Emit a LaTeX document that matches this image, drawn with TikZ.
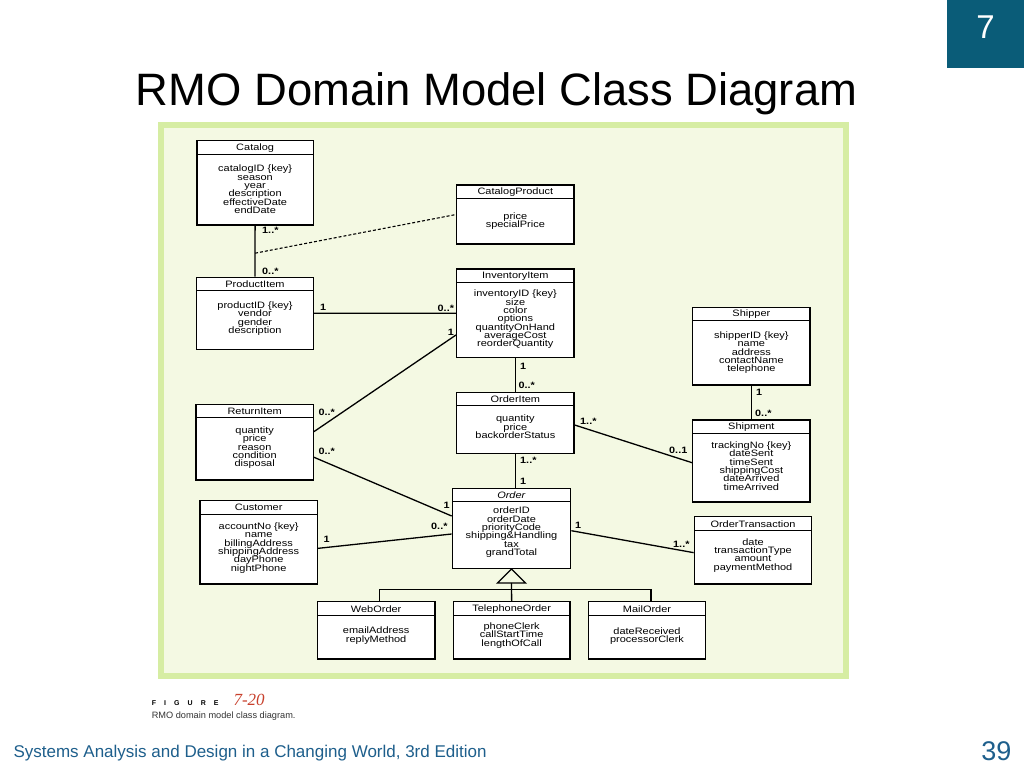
\documentclass[tikz,border=0pt]{standalone}
\usepackage{fontspec}
\setmainfont{Liberation Sans}
\newfontfamily\umlfont[FakeStretch=1.18]{Liberation Sans}
\newfontfamily\capserif{Liberation Serif}
\usetikzlibrary{fit,calc}

\definecolor{slideblue}{HTML}{1E5F8C}
\definecolor{chapterteal}{HTML}{0A5C78}
\definecolor{panelrim}{HTML}{D6EDA3}
\definecolor{panelfill}{HTML}{F4F9E3}
\definecolor{figred}{HTML}{C8402C}

\newcommand{\umltext}{\umlfont\fontsize{9.3}{8.3}\selectfont\setlength{\lineskiplimit}{-20pt}\setlength{\lineskip}{0pt}}

\tikzset{
	classbox/.style={draw=black, line width=1.3pt, fill=white, inner sep=0pt},
	classname/.style={font=\umltext, inner sep=0pt},
	classattr/.style={font=\umltext, align=center, inner sep=0pt},
	mult/.style={font=\umlfont\bfseries\fontsize{9.2}{9.2}\selectfont, inner sep=0pt, anchor=west},
	assoc/.style={draw=black, line width=1.3pt},
	assocclass/.style={draw=black, line width=1.1pt, dash pattern=on 3pt off 2pt},
}

% #1 id, #2 left, #3 top, #4 right, #5 bottom, #6 first attribute line, #7 title, #8 attributes
\newcommand{\umlclass}[8]{%
	\coordinate (#1-nw) at (#2,#3);
	\coordinate (#1-se) at (#4,#5);
	\node[classbox, fit=(#1-nw)(#1-se)] (#1) {};
	\draw[line width=1.3pt] (#2,#3+13.5) -- (#4,#3+13.5);
	\node[classname] (#1-title) at ({(#2+#4)/2},#3+7) {#7};
	\node[classattr, anchor=north] (#1-attrs) at ({(#2+#4)/2},#6-4) {#8};
}

\begin{document}
\begin{tikzpicture}[x=1pt,y=-1pt]

	%Background
	\useasboundingbox (0,0) rectangle (1024,768);
	\fill[white] (0,0) rectangle (1024,768);

	%Chapter tab
	\fill[chapterteal] (947,0) rectangle (1024,68);
	\node[text=white, font=\fontsize{33}{33}\selectfont, anchor=base] (chapno) at (985.5,38) {7};

	%Title
	\node[font=\fontsize{45.4}{45.4}\selectfont, anchor=base] (title) at (496.5,105.5) {RMO Domain Model Class Diagram};

	%Panel
	\fill[panelrim] (158,122) rectangle (849,679);
	\fill[panelfill] (164,127.5) rectangle (843,673);

	%Classes
	\umlclass{catalog}{197}{140.7}{313.3}{225}{169}{Catalog}{catalogID \{key\}\\season\\year\\description\\effectiveDate\\endDate}
	\umlclass{catalogproduct}{456.7}{185}{574}{244}{216.7}{CatalogProduct}{price\\specialPrice}
	\umlclass{productitem}{196.7}{277.3}{313.3}{349.3}{305.7}{ProductItem}{productID \{key\}\\vendor\\gender\\description}
	\umlclass{inventoryitem}{456.7}{269}{574}{357.7}{294}{InventoryItem}{inventoryID \{key\}\\size\\color\\options\\quantityOnHand\\averageCost\\reorderQuantity}
	\umlclass{shipper}{692.7}{307.3}{810}{385}{335.7}{Shipper}{shipperID \{key\}\\name\\address\\contactName\\telephone}
	\umlclass{shipment}{692.7}{420}{810}{502}{445.7}{Shipment}{trackingNo \{key\}\\dateSent\\timeSent\\shippingCost\\dateArrived\\timeArrived}
	\umlclass{returnitem}{196}{404.3}{313.3}{480}{430.7}{ReturnItem}{quantity\\price\\reason\\condition\\disposal}
	\umlclass{orderitem}{456.7}{392.3}{574}{453.3}{419}{OrderItem}{quantity\\price\\backorderStatus}
	\umlclass{order}{452.3}{488.3}{570.7}{568.3}{511}{\textit{Order}}{orderID\\orderDate\\priorityCode\\shipping\&Handling\\tax\\grandTotal}
	\umlclass{customer}{200}{500.7}{317.3}{584}{526.7}{Customer}{accountNo \{key\}\\name\\billingAddress\\shippingAddress\\dayPhone\\nightPhone}
	\umlclass{ordertransaction}{694.3}{516.7}{811.7}{584}{542.3}{OrderTransaction}{date\\transactionType\\amount\\paymentMethod}
	\umlclass{weborder}{317.3}{601.7}{435}{659}{631}{WebOrder}{emailAddress\\replyMethod}
	\umlclass{telephoneorder}{453.3}{601.7}{570}{659}{626.7}{TelephoneOrder}{phoneClerk\\callStartTime\\lengthOfCall}
	\umlclass{mailorder}{588.3}{601.7}{705.7}{659}{631.7}{MailOrder}{dateReceived\\processorClerk}

	%Associations
	\draw[assoc] (catalog) -- (productitem);
	\coordinate (cpjoin) at ($(catalog.south)!0.54!(productitem.north)$);
	\draw[assocclass] (cpjoin) -- (catalogproduct.west);
	\draw[assoc] (productitem) -- (inventoryitem);
	\draw[assoc] ([yshift=-21.6pt]inventoryitem.west) -- ([yshift=10.5pt]returnitem.east);
	\draw[assoc] ([yshift=-15.1pt]returnitem.east) -- ([yshift=12.3pt]order.west);
	\draw[assoc] ([yshift=-6pt]customer.east) -- ([yshift=-5.7pt]order.west);
	\draw[assoc] (inventoryitem) -- (orderitem);
	\draw[assoc] (orderitem.south) -- (orderitem.south |- order.north);
	\draw[assoc] ([yshift=-2.2pt]orderitem.east) -- ([yshift=-1.7pt]shipment.west);
	\draw[assoc] (shipper) -- (shipment);
	\draw[assoc] ([yshift=-2.4pt]order.east) -- ([yshift=-2.3pt]ordertransaction.west);

	%Generalization
	\coordinate (genbase) at ($(order.south)+(0,14)$);
	\coordinate (genbar) at ($(order.south)+(0,20.7)$);
	\draw[assoc, fill=panelfill] (order.south) -- ++(-14,14) -- ++(28,0) -- cycle;
	\draw[assoc] (genbase) -- (telephoneorder.north);
	\draw[assoc] ([xshift=3pt]weborder.north) |- (genbar) -| ([xshift=4pt]mailorder.north);

	%Multiplicities
	\node[mult] (m-cat) at (262,230) {1..*};
	\node[mult] (m-prod) at (262,271.7) {0..*};
	\node[mult] (m-prodinv) at (320,307.3) {1};
	\node[mult] (m-invprod) at (437.5,308.3) {0..*};
	\node[mult] (m-invret) at (447.7,332.3) {1};
	\node[mult] (m-invord) at (520,366.7) {1};
	\node[mult] (m-ordinv) at (518.3,385) {0..*};
	\node[mult] (m-retinv) at (318.3,412.3) {0..*};
	\node[mult] (m-retord) at (318.3,451.7) {0..*};
	\node[mult] (m-itemord) at (520,460.7) {1..*};
	\node[mult] (m-orditem) at (520,481) {1};
	\node[mult] (m-ordret) at (443.3,505) {1};
	\node[mult] (m-cust) at (323.3,539.3) {1};
	\node[mult] (m-ordcust) at (431,526.7) {0..*};
	\node[mult] (m-itemship) at (580,421.7) {1..*};
	\node[mult] (m-shipitem) at (669,450.7) {0..1};
	\node[mult] (m-shipper) at (756,392.3) {1};
	\node[mult] (m-shipment) at (755,413.3) {0..*};
	\node[mult] (m-ordtrans) at (575,525) {1};
	\node[mult] (m-transord) at (673,544) {1..*};

	%Caption
	\node[anchor=base west, font=\bfseries\fontsize{7}{7}\selectfont\addfontfeatures{LetterSpace=115}] (figword) at (148.3,705) {FIGURE};
	\node[anchor=base west, font=\capserif\itshape\fontsize{17}{17}\selectfont, text=figred] (fignum) at (230,705) {7-20};
	\node[anchor=base west, font=\fontsize{9.2}{10}\selectfont, text=black!80] (figcap) at (148.3,718) {RMO domain model class diagram.};

	%Footer
	\node[anchor=base west, font=\fontsize{17}{17}\selectfont, text=slideblue] (footer) at (10,757) {Systems Analysis and Design in a Changing World, 3rd Edition};
	\node[anchor=base east, font=\fontsize{27}{27}\selectfont, text=slideblue] (pageno) at (1015,760) {39};

\end{tikzpicture}
\end{document}
